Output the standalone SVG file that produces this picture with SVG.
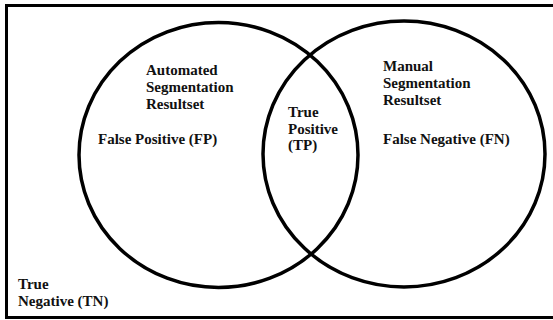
<svg xmlns="http://www.w3.org/2000/svg" width="553" height="320" viewBox="0 0 553 320">
<style>
.frame{fill:none;stroke:#000;stroke-width:3}
.set{fill:none;stroke:#000;stroke-width:3.5}
text{font-family:"Liberation Serif","Times New Roman",serif;font-weight:bold;font-size:15px;fill:#111}
</style>
<rect x="0" y="0" width="553" height="320" fill="#fff"/>
<g id="universe">
<path class="frame" d="M560 5.5 H6.5 V317.5 H560"/>
<text x="18" y="289">True</text>
<text x="18" y="306">Negative (TN)</text>
</g>
<g id="automated">
<ellipse class="set" cx="218.5" cy="155" rx="139.5" ry="132.5"/>
<text x="146" y="75">Automated</text>
<text x="146" y="92">Segmentation</text>
<text x="146" y="109">Resultset</text>
<text x="98" y="144">False Positive (FP)</text>
</g>
<g id="manual">
<ellipse class="set" cx="404" cy="154" rx="141" ry="133"/>
<text x="383" y="71">Manual</text>
<text x="383" y="88">Segmentation</text>
<text x="383" y="105">Resultset</text>
<text x="383" y="144">False Negative (FN)</text>
</g>
<g id="intersection">
<text x="288" y="117">True</text>
<text x="288" y="134">Positive</text>
<text x="288" y="150">(TP)</text>
</g>
<g id="connectors"></g>
</svg>
